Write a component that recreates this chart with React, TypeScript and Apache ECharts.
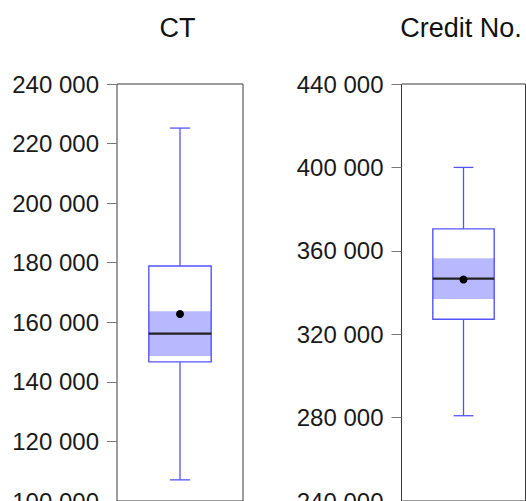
import React, { useEffect, useRef } from "react";
import * as echarts from "echarts";

const categories = ["CT", "Credit No."];
const whiskerLow = [107100, 280900];
const q1 = [146700, 327200];
const median = [156200, 346700];
const q3 = [178900, 370500];
const whiskerHigh = [225200, 400000];
const mean = [162800, 346200];
const ciLow = [148700, 336900];
const ciHigh = [163700, 356400];

const ctTicks = [100000, 120000, 140000, 160000, 180000, 200000, 220000, 240000];
const creditTicks = [240000, 280000, 320000, 360000, 400000, 440000];
const tickSets = [ctTicks, creditTicks];

const FONT = "'Liberation Sans', Arial, Helvetica, sans-serif";
const BLUE = "#5454ff";
const BAND = "#b8b8ff";

const fmt = (v: number) => {
  const th = Math.floor(v / 1000);
  const rest = String(Math.round(v % 1000)).padStart(3, "0");
  return `${th} ${rest}`;
};

const grids = [
  { left: 117, top: 84, width: 126, height: 417 },
  { left: 401.5, top: 84, width: 124, height: 417 },
];
const titleX = [177.5, 461];

export default function App() {
  const ref = useRef<HTMLDivElement>(null);
  useEffect(() => {
    if (!ref.current) return;
    const chart = echarts.init(ref.current, null, { renderer: "svg" });

    const renderItem = (params: any, api: any) => {
      const x = api.value(0);
      const pLo = api.coord([x, api.value(1)]);
      const pQ1 = api.coord([x, api.value(2)]);
      const pMed = api.coord([x, api.value(3)]);
      const pQ3 = api.coord([x, api.value(4)]);
      const pHi = api.coord([x, api.value(5)]);
      const pMean = api.coord([x, api.value(6)]);
      const pCiL = api.coord([x, api.value(7)]);
      const pCiH = api.coord([x, api.value(8)]);
      const band = api.size([1, 0])[0];
      const cx = pMed[0];
      const boxW = band * 0.495;
      const capW = band * 0.16;
      const bl = cx - boxW / 2;
      const line = { stroke: BLUE, lineWidth: 1.3 };
      return {
        type: "group",
        children: [
          { type: "line", shape: { x1: cx, y1: pQ3[1], x2: cx, y2: pHi[1] }, style: line },
          { type: "line", shape: { x1: cx, y1: pQ1[1], x2: cx, y2: pLo[1] }, style: line },
          { type: "line", shape: { x1: cx - capW / 2, y1: pHi[1], x2: cx + capW / 2, y2: pHi[1] }, style: line },
          { type: "line", shape: { x1: cx - capW / 2, y1: pLo[1], x2: cx + capW / 2, y2: pLo[1] }, style: line },
          { type: "rect", shape: { x: bl, y: pQ3[1], width: boxW, height: pQ1[1] - pQ3[1] }, style: { fill: "#fff" } },
          { type: "rect", shape: { x: bl, y: pCiH[1], width: boxW, height: pCiL[1] - pCiH[1] }, style: { fill: BAND } },
          { type: "rect", shape: { x: bl, y: pQ3[1], width: boxW, height: pQ1[1] - pQ3[1] }, style: { fill: "none", stroke: BLUE, lineWidth: 1.4 } },
          { type: "line", shape: { x1: bl, y1: pMed[1], x2: bl + boxW, y2: pMed[1] }, style: { stroke: "#222", lineWidth: 2.3 } },
          { type: "circle", shape: { cx: pMean[0], cy: pMean[1], r: 4 }, style: { fill: "#000" } },
        ],
      };
    };

    const option: any = {
      animation: false,
      grid: grids.map((g) => ({
        ...g,
        show: true,
        borderColor: "#3a3a3a",
        borderWidth: 1,
        backgroundColor: "transparent",
        containLabel: false,
        outerBoundsMode: "none",
      })),
      graphic: categories.map((c, i) => ({
        type: "text",
        x: titleX[i],
        y: 28,
        style: {
          text: c,
          fontFamily: FONT,
          fontSize: 27,
          fill: "#111",
          textAlign: "center",
          textVerticalAlign: "middle",
        },
      })),
      xAxis: categories.map((c, i) => ({
        type: "category",
        gridIndex: i,
        data: [c],
        boundaryGap: true,
        axisLine: { show: false },
        axisTick: { show: false },
        axisLabel: { show: false },
        splitLine: { show: false },
      })),
      yAxis: tickSets.map((t, i) => ({
        type: "value",
        gridIndex: i,
        min: t[0],
        max: t[t.length - 1],
        interval: t[1] - t[0],
        axisLine: { show: false },
        axisTick: { show: true, length: 10, lineStyle: { color: "#777", width: 1 } },
        splitLine: { show: false },
        axisLabel: {
          show: true,
          margin: 18,
          fontFamily: FONT,
          fontSize: 24,
          color: "#1a1a1a",
          showMinLabel: true,
          showMaxLabel: true,
          formatter: (v: number) => fmt(v),
        },
      })),
      series: categories.map((c, i) => ({
        type: "custom",
        xAxisIndex: i,
        yAxisIndex: i,
        renderItem,
        encode: { x: 0, y: [1, 2, 3, 4, 5] },
        data: [[0, whiskerLow[i], q1[i], median[i], q3[i], whiskerHigh[i], mean[i], ciLow[i], ciHigh[i]]],
        clip: false,
      })),
    };
    chart.setOption(option);
    return () => chart.dispose();
  }, []);
  return (
    <div
      ref={ref}
      style={{ position: "absolute", left: 0, top: 0, width: 526, height: 501, background: "#fff" }}
    />
  );
}
